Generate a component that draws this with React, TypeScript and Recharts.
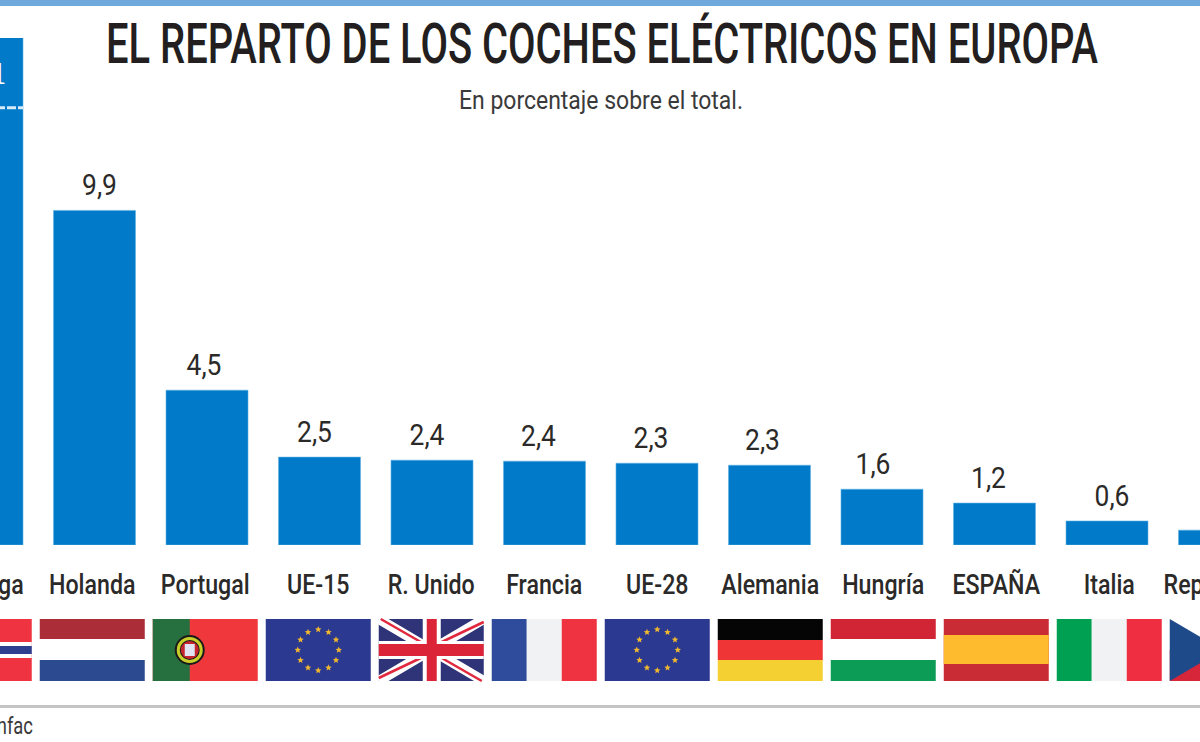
import { Bar, BarChart, LabelList, Rectangle, XAxis, YAxis } from "recharts";

const categories = ["Noruega", "Holanda", "Portugal", "UE-15", "R. Unido", "Francia", "UE-28", "Alemania", "Hungría", "ESPAÑA", "Italia", "Rep. Checa"];
const shares = [31.1, 9.9, 4.58, 2.6, 2.51, 2.48, 2.42, 2.36, 1.65, 1.24, 0.71, 0.44];
const valueLabels = ["31,1", "9,9", "4,5", "2,5", "2,4", "2,4", "2,3", "2,3", "1,6", "1,2", "0,6", "0,4"];

const data = categories.map((name, i) => ({ name, share: shares[i], label: valueLabels[i] }));

const BAR_BLUE = "#007ac9";
const FONT = "Roboto, sans-serif";
const BREAK_AT = 12.94;
const FLAG_W = 105;
const FLAG_H = 62;
// the printed numbers are not quite centred over their bars
const labelNudge = [-4, 5, -3, -5, -5, -6, -6, -7, -9, -6, 5, 1];

function Star({ cx, cy }: { cx: number; cy: number }) {
  const r = 3.4;
  const pts = Array.from({ length: 10 }).map((_, k) => {
    const a = -Math.PI / 2 + (k * Math.PI) / 5;
    const d = k % 2 === 0 ? r : r * 0.45;
    return `${cx + d * Math.cos(a)},${cy + d * Math.sin(a)}`;
  });
  return <polygon points={pts.join(" ")} fill="#f0b72f" />;
}

function Flag({ name }: { name: string }) {
  const w = FLAG_W;
  const h = FLAG_H;
  switch (name) {
    case "Noruega":
      return (
        <g>
          <rect width={w} height={h} fill="#ef3340" />
          <rect y={23} width={w} height={16} fill="#fff" />
          <rect x={28} width={16} height={h} fill="#fff" />
          <rect y={27} width={w} height={8} fill="#2d3f8e" />
          <rect x={32} width={8} height={h} fill="#2d3f8e" />
        </g>
      );
    case "Holanda":
      return (
        <g>
          <rect width={w} height={20} fill="#ab2d38" />
          <rect y={41} width={w} height={21} fill="#2b4a90" />
        </g>
      );
    case "Portugal":
      return (
        <g>
          <rect width={w} height={h} fill="#f0373c" />
          <rect width={37} height={h} fill="#26703f" />
          <circle cx={37} cy={31} r={15} fill="#1a1a1a" />
          <circle cx={37} cy={31} r={13} fill="#c9cf2a" />
          <circle cx={37} cy={31} r={10} fill="#1a1a1a" />
          <circle cx={37} cy={31} r={9} fill="#c5252c" />
          <rect x={32} y={25} width={10} height={12} fill="#dfe3f2" />
        </g>
      );
    case "UE-15":
    case "UE-28":
      return (
        <g>
          <rect width={w} height={h} fill="#2b3990" />
          {Array.from({ length: 12 }).map((_, k) => (
            <Star key={k} cx={52.5 + 20.5 * Math.cos((k * Math.PI) / 6)} cy={31 + 20.5 * Math.sin((k * Math.PI) / 6)} />
          ))}
        </g>
      );
    case "R. Unido":
      return (
        <g>
          <rect width={w} height={h} fill="#2f3478" />
          <path d={`M0 0L${w} ${h}M${w} 0L0 ${h}`} stroke="#fff" strokeWidth={10} />
          <path d={`M2 0L42 23M103 62L63 39M105 3L63 23M0 59L42 39`} stroke="#e0293f" strokeWidth={2.5} />
          <rect x={44} width={18} height={h} fill="#fff" />
          <rect y={22} width={w} height={18} fill="#fff" />
          <rect x={48} width={10} height={h} fill="#dc2439" />
          <rect y={25} width={w} height={12} fill="#dc2439" />
        </g>
      );
    case "Francia":
      return (
        <g>
          <rect width={35} height={h} fill="#2f4b9c" />
          <rect x={35} width={35} height={h} fill="#f1f2f4" />
          <rect x={70} width={35} height={h} fill="#ef3340" />
        </g>
      );
    case "Alemania":
      return (
        <g>
          <rect width={w} height={21} fill="#050505" />
          <rect y={21} width={w} height={20} fill="#ef3535" />
          <rect y={41} width={w} height={21} fill="#f5d033" />
        </g>
      );
    case "Hungría":
      return (
        <g>
          <rect width={w} height={20} fill="#d12536" />
          <rect y={41} width={w} height={21} fill="#0c9c55" />
        </g>
      );
    case "ESPAÑA":
      return (
        <g>
          <rect width={w} height={h} fill="#c92c35" />
          <rect y={16} width={w} height={29} fill="#fdbb2d" />
        </g>
      );
    case "Italia":
      return (
        <g>
          <rect width={35} height={h} fill="#00a052" />
          <rect x={35} width={35} height={h} fill="#f1f2f4" />
          <rect x={70} width={35} height={h} fill="#ef2e42" />
        </g>
      );
    case "Rep. Checa":
      return (
        <g>
          <rect y={31} width={w} height={31} fill="#d7263a" />
          <path d={`M0 0L${w / 2} 31L0 ${h}Z`} fill="#1f4a8a" />
        </g>
      );
    default:
      return null;
  }
}

function CountryTick({ x, y, index, payload }: any) {
  // flags and names sit on a slightly wider pitch than the bars
  const cx = x + (index - 6) * 0.5;
  return (
    <g>
      <text transform={`translate(${cx},${y + 49}) scale(0.86,1)`} textAnchor="middle" fontFamily={FONT} fontWeight={500} fontSize={27} fill="#2b2a29">
        {payload.value}
      </text>
      <g transform={`translate(${cx - FLAG_W / 2},${y + 74})`}>
        <Flag name={payload.value} />
      </g>
    </g>
  );
}

function BrokenBar(props: any) {
  const { x, y, width, height, share, index } = props;
  if (index !== 0) return <Rectangle x={x} y={y} width={width} height={height} fill={BAR_BLUE} stroke="#5fb2e6" strokeWidth={0.6} />;
  // first bar runs off the scale: white dashed cut across it
  const cutY = y + height - BREAK_AT * (height / share);
  return (
    <g>
      <Rectangle x={x} y={y} width={width} height={height} fill={BAR_BLUE} stroke="#5fb2e6" strokeWidth={0.6} />
      <line x1={x} x2={x + width} y1={cutY} y2={cutY} stroke="#d8ecf8" strokeWidth={3} strokeDasharray="9 2" />
    </g>
  );
}

function ValueLabel({ x, y, width, height, value, index }: any) {
  if (index === 0) {
    const baseY = y + height - (height / shares[0]) * 13.63;
    return (
      <text x={x + width / 2 + labelNudge[0]} y={baseY} textAnchor="middle" fontFamily="'Liberation Serif', serif" fontWeight={700} fontSize={32} fill="#fff">
        {value}
      </text>
    );
  }
  return (
    <text transform={`translate(${x + width / 2 + labelNudge[index]},${y - 15.5}) scale(0.88,1)`} textAnchor="middle" fontFamily={FONT} fontSize={30} fill="#2b2a29">
      {value}
    </text>
  );
}

export default function App() {
  return (
    <div style={{ position: "absolute", left: 0, top: 0, width: 1200, height: 742, overflow: "hidden", background: "#fff" }}>
      <div style={{ position: "absolute", left: -74, top: 0 }}>
        <BarChart width={1350} height={742} data={data} margin={{ top: 38, right: 0, bottom: 0, left: 0 }}>
          <XAxis dataKey="name" height={197} axisLine={false} tickLine={false} tickSize={0} tickMargin={0} interval={0} tick={CountryTick} />
          <YAxis hide domain={[0, 15]} allowDataOverflow />
          <Bar dataKey="share" barSize={82} fill={BAR_BLUE} shape={BrokenBar} isAnimationActive={false}>
            <LabelList dataKey="label" content={ValueLabel} />
          </Bar>
        </BarChart>
      </div>
      <svg width={1200} height={742} style={{ position: "absolute", left: 0, top: 0, pointerEvents: "none" }}>
        <rect width={1200} height={6} fill="#6fa9dc" />
        <text x={602} y={63} textAnchor="middle" textLength={992} lengthAdjust="spacingAndGlyphs" fontFamily={FONT} fontWeight={500} fontSize={55} fill="#231f20">
          EL REPARTO DE LOS COCHES ELÉCTRICOS EN EUROPA
        </text>
        <text x={601} y={109} textAnchor="middle" textLength={284} lengthAdjust="spacingAndGlyphs" fontFamily={FONT} fontSize={25} fill="#3a3a3a">
          En porcentaje sobre el total.
        </text>
        <rect y={705} width={1200} height={3} fill="#c4c4c4" />
        <text transform="translate(33,734) scale(0.8,1)" textAnchor="end" fontFamily={FONT} fontSize={23} fill="#3a3a3a">
          Fuente: Anfac
        </text>
      </svg>
    </div>
  );
}
